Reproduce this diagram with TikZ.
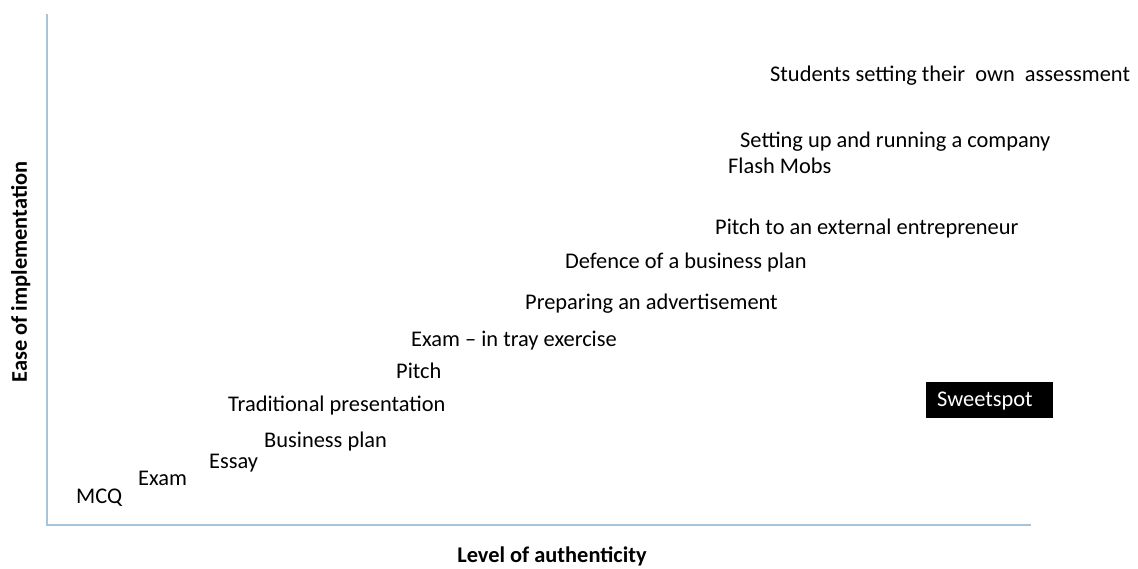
\documentclass[tikz,border=0pt]{standalone}
\usepackage{fontspec}
\setmainfont{Carlito}
\definecolor{axisblue}{HTML}{A8C4DA}
\begin{document}
\begin{tikzpicture}[x=1pt,y=-1pt,
  lbl/.style={anchor=base west,inner sep=0pt,font=\fontsize{22.4}{26}\selectfont},
  axlbl/.style={anchor=base,inner sep=0pt,font=\fontsize{22.4}{26}\selectfont\bfseries},
  axisline/.style={draw=axisblue,line width=1.5pt}]
\useasboundingbox (0,0) rectangle (1138,569);
\coordinate (top) at (47,14);
\coordinate (origin) at (47,525);
\coordinate (right) at (1031,525);
\draw[axisline] (top) -- (origin) -- (right);
\node[axlbl,rotate=90] (ylab) at (27,272) {Ease of implementation};
\node[axlbl] (xlab) at (552,562) {Level of authenticity};
\node[lbl] (mcq) at (76,503) {MCQ};
\node[lbl] (exam) at (138,485) {Exam};
\node[lbl] (essay) at (209,468) {Essay};
\node[lbl] (bplan) at (264,447) {Business plan};
\node[lbl] (trad) at (228,411) {Traditional presentation};
\node[lbl] (pitch) at (396,378) {Pitch};
\node[lbl] (tray) at (411,346) {Exam – in tray exercise};
\node[lbl] (advert) at (525,310) {Preparing an advertisement};
\node[lbl] (defence) at (565,269) {Defence of a business plan};
\node[lbl] (extpitch) at (715,235) {Pitch to an external entrepreneur};
\node[lbl] (flash) at (728,174) {Flash Mobs};
\node[lbl] (company) at (740,148) {Setting up and running a company};
\node[lbl] (students) at (770,82) {Students setting their\ \ own\ \ assessment};
\node[fill=black,minimum width=127pt,minimum height=36pt,inner sep=0pt] (sweetbox) at (989.5,400) {};
\node[lbl,text=white] (sweet) at (937,406) {Sweetspot};
\end{tikzpicture}
\end{document}
